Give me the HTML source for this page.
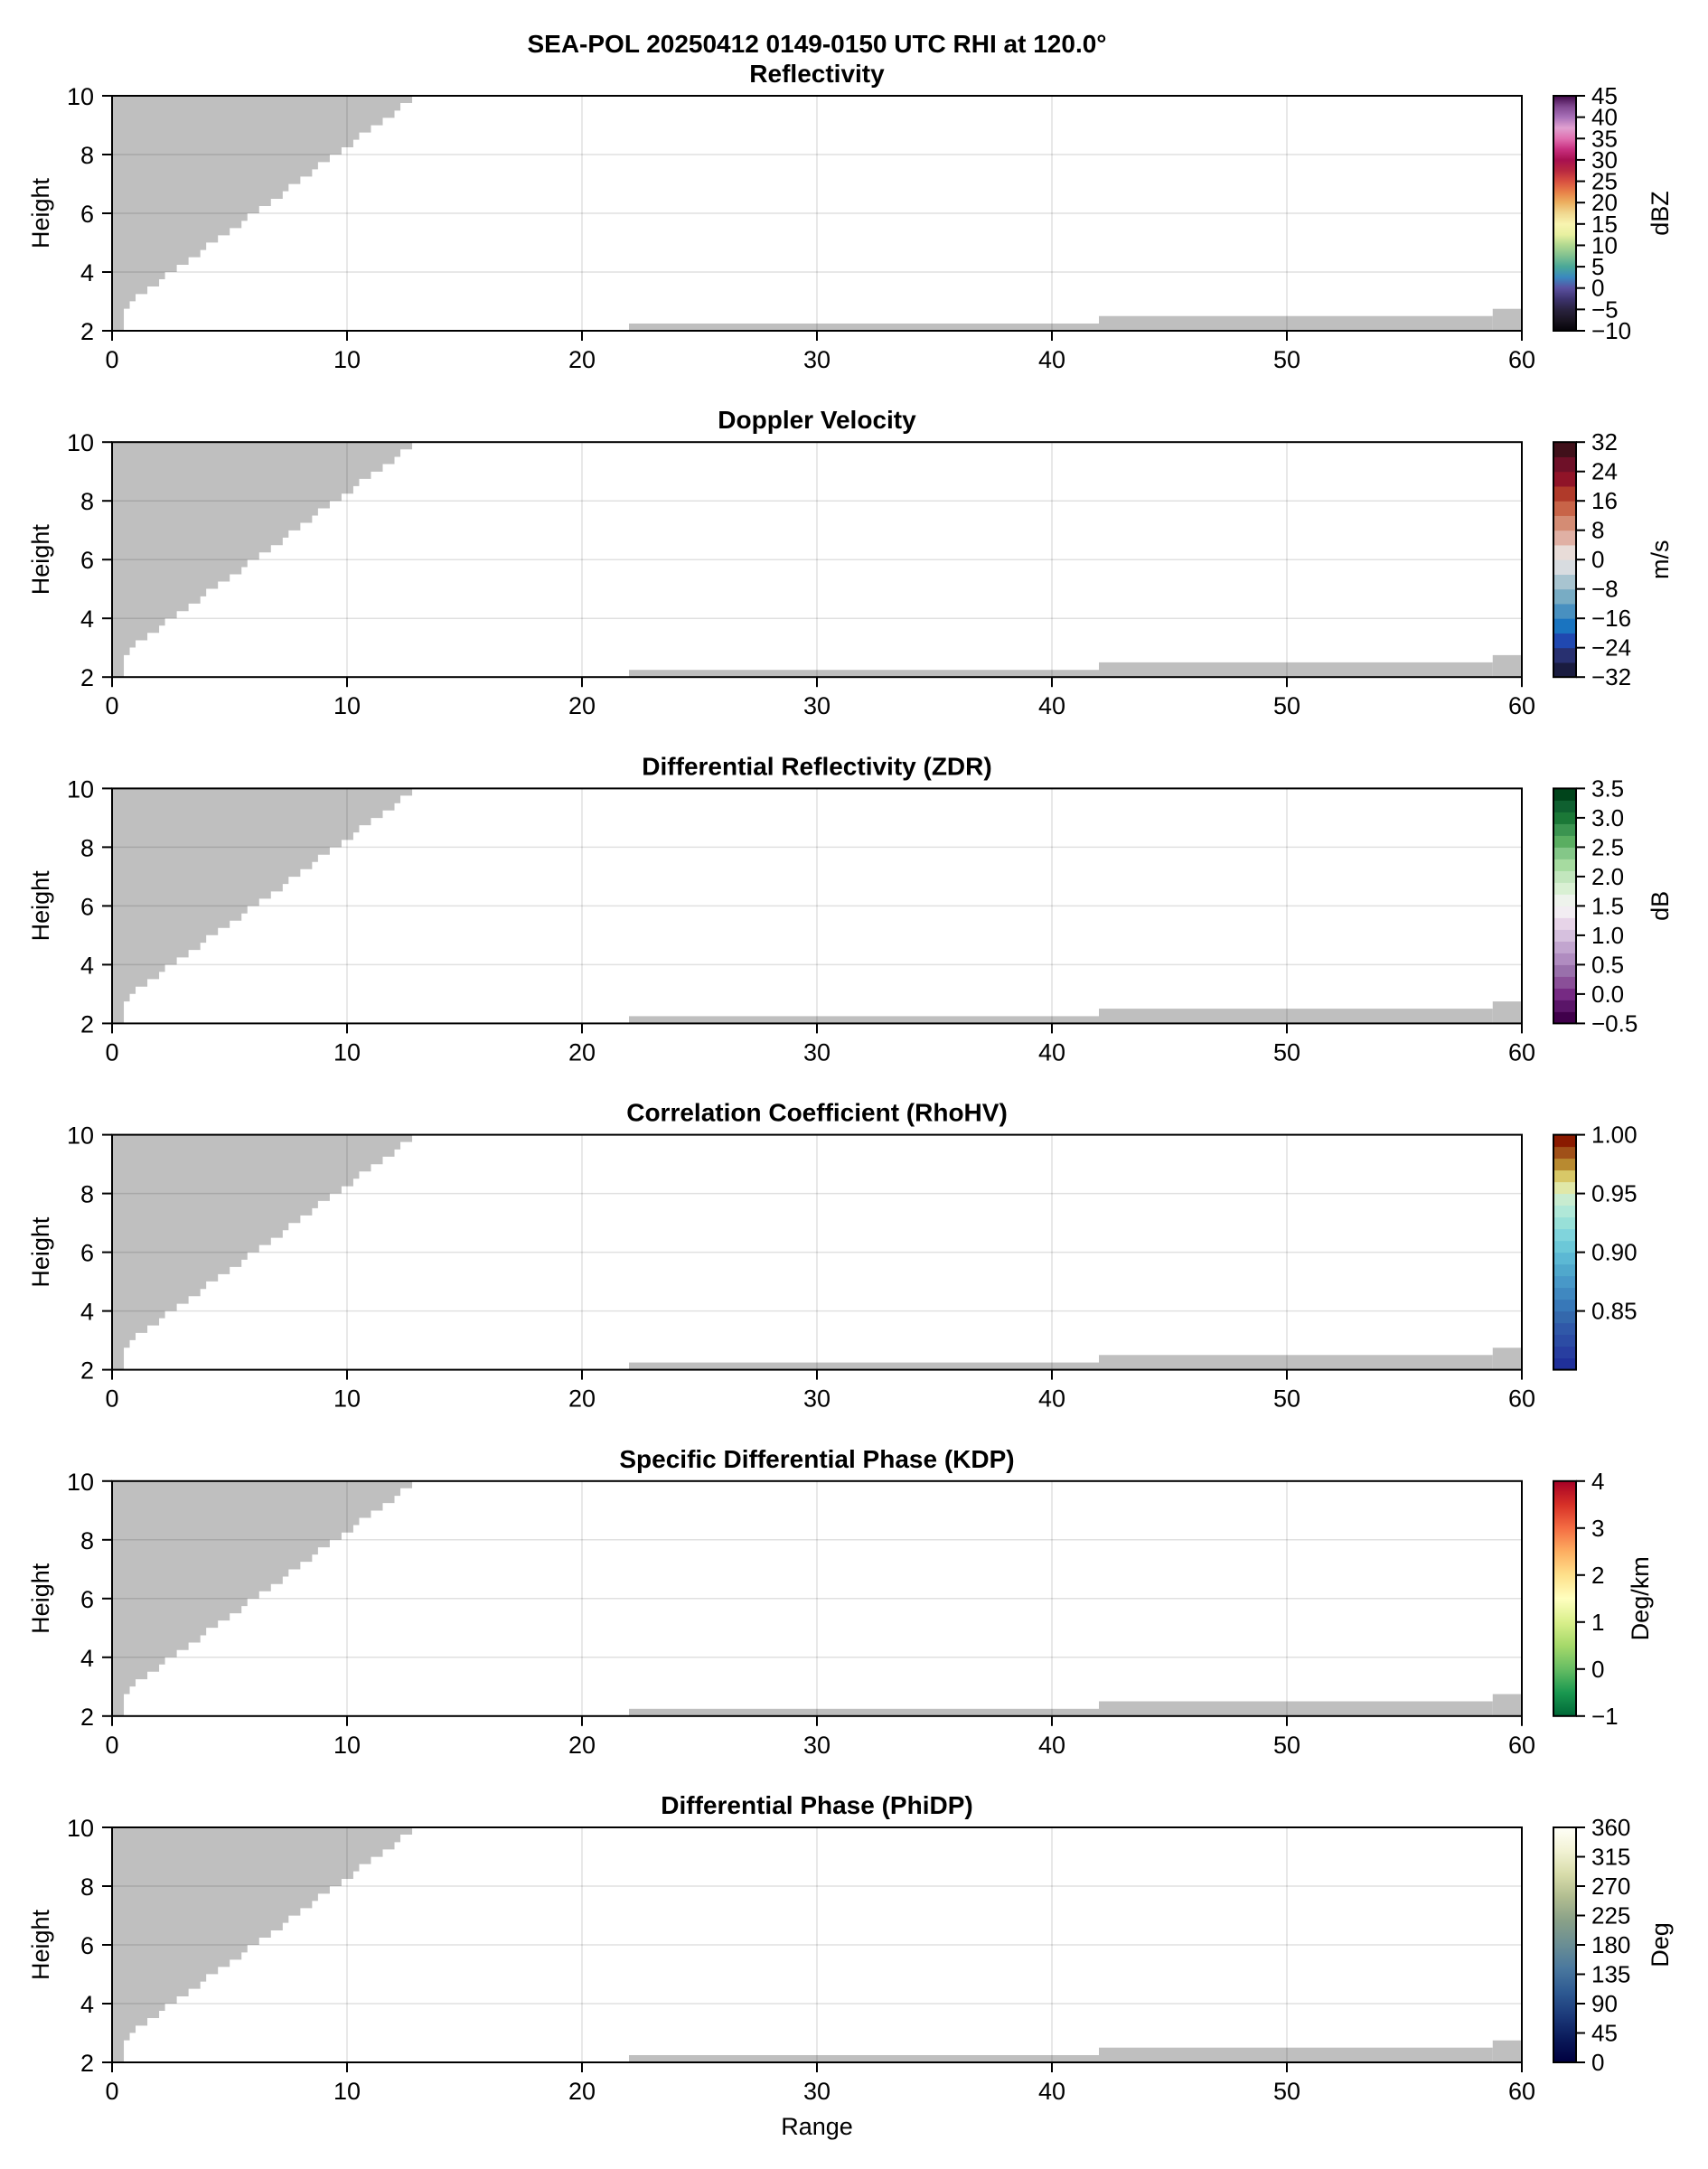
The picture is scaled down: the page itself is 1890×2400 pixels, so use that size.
<!DOCTYPE html>
<html><head><meta charset="utf-8"><style>
html,body{margin:0;padding:0;background:#fff;overflow:hidden;}
svg{display:block;font-family:"Liberation Sans",sans-serif;}
</style></head><body>
<svg id="s" width="1890" height="2400" xmlns="http://www.w3.org/2000/svg">
<text x="904" y="58" font-size="28" font-weight="bold" text-anchor="middle">SEA-POL 20250412 0149-0150 UTC RHI at 120.0°</text>
</svg>
<script>
const S=document.getElementById('s');
let html='';
const L=124,R=1684,W=R-L,H=260,U=W/60;
const tops=[106,489.2,872.4,1255.6,1638.8,2022];
const titles=['Reflectivity','Doppler Velocity','Differential Reflectivity (ZDR)','Correlation Coefficient (RhoHV)','Specific Differential Phase (KDP)','Differential Phase (PhiDP)'];
const units=['dBZ','m/s','dB','','Deg/km','Deg'];
const ticks=[
 [[-10,'−10'],[-5,'−5'],[0,'0'],[5,'5'],[10,'10'],[15,'15'],[20,'20'],[25,'25'],[30,'30'],[35,'35'],[40,'40'],[45,'45']],
 [[-32,'−32'],[-24,'−24'],[-16,'−16'],[-8,'−8'],[0,'0'],[8,'8'],[16,'16'],[24,'24'],[32,'32']],
 [[-0.5,'−0.5'],[0,'0.0'],[0.5,'0.5'],[1,'1.0'],[1.5,'1.5'],[2,'2.0'],[2.5,'2.5'],[3,'3.0'],[3.5,'3.5']],
 [[0.85,'0.85'],[0.9,'0.90'],[0.95,'0.95'],[1.0,'1.00']],
 [[-1,'−1'],[0,'0'],[1,'1'],[2,'2'],[3,'3'],[4,'4']],
 [[0,'0'],[45,'45'],[90,'90'],[135,'135'],[180,'180'],[225,'225'],[270,'270'],[315,'315'],[360,'360']]];
const ranges=[[-10,45],[-32,32],[-0.5,3.5],[0.8,1.0],[-1,4],[0,360]];
const cmaps=[
 ['#050308','#1a1522','#2a2340','#3e3470','#5a50a0','#3a88c0','#4aa898','#80c090','#b0d890','#e8f0a0','#f8f4b0','#f0d890','#ecb060','#e88048','#d85040','#b82840','#a81050','#c83080','#e070b0','#e0a0d0','#a870b8','#804890','#400848'],
 ['#1a1c40','#283070','#2048b0','#1a74c0','#4890c0','#78acc4','#a8c4d0','#d8dce0','#e8dcd8','#e0b0a4','#d48c74','#c86448','#b03a2a','#901428','#6e1028','#40101a'],
 ['#40004b','#5a1568','#762a83','#8a4f98','#9970ab','#b08cc0','#c2a5cf','#d6c0de','#e7d4e8','#f2edf2','#eef3ec','#d9f0d3','#c2e6bd','#a6dba0','#84c788','#5aae61','#3b9450','#1b7837','#0f6030','#00441b'],
 ['#20309a','#283ea0','#2c4ca4','#3058a8','#3468ac','#3878b8','#4088c0','#4898c8','#50a8cc','#5cb8d4','#6cc8d8','#80d4dc','#98e0d8','#b0e8d8','#c8ecd0','#e0e8a8','#d8c868','#b88a30','#a05018','#8a1a00'],
 ['#006837','#1a9850','#66bd63','#a6d96a','#d9ef8b','#ffffbf','#fee08b','#fdae61','#f46d43','#d73027','#a50026'],
 ['#000040','#0a1a5a','#1c3a7a','#2e5a92','#4a789e','#6a8e94','#88a088','#b0bc90','#d8dcaa','#f2f2d4','#fffff8']];
const discrete=[false,true,true,true,false,false];
const xs=[0,34,51,68,102,136,153,187,221,255,272,306,340,374,391,425,459,493,510,544,578,595,629,663,697,714,748,782,816,833,867];
const ys=[780,707,682,658,633,609,585,561,536,512,487,463,439,415,390,366,342,317,293,268,244,220,195,171,146,122,98,73,49,24];
const fx=0.383;
let stair='M0,0 L0,260 ';
for(let i=0;i<ys.length;i++){stair+=`L${xs[i]*fx},${ys[i]/3} L${xs[i+1]*fx},${ys[i]/3} `;}
stair+=`L${867*fx},0 Z`;
for(let p=0;p<6;p++){
 const T=tops[p];
 html+=`<text x="${(L+R)/2}" y="${T-15}" font-size="28" font-weight="bold" text-anchor="middle">${titles[p]}</text>`;
 html+=`<g transform="translate(${L},${T})">`;
 html+=`<path d="${stair}" fill="#bfbfbf"/>`;
 html+=`<rect x="${22*U}" y="252" width="${20*U}" height="8" fill="#bfbfbf"/>`;
 html+=`<rect x="${42*U}" y="243.7" width="${16.76*U}" height="16.3" fill="#bfbfbf"/>`;
 html+=`<rect x="${58.76*U}" y="235.7" width="${1.24*U}" height="24.3" fill="#bfbfbf"/>`;
 for(let k=1;k<6;k++){const x=k*W/6;html+=`<line x1="${x}" y1="0" x2="${x}" y2="${H}" stroke="#000" stroke-opacity="0.12" stroke-width="1.5"/>`;}
 for(let k=1;k<4;k++){const y=k*H/4;html+=`<line x1="0" y1="${y}" x2="${W}" y2="${y}" stroke="#000" stroke-opacity="0.12" stroke-width="1.5"/>`;}
 html+=`<rect x="0" y="0" width="${W}" height="${H}" fill="none" stroke="#000" stroke-width="2"/>`;
 for(let k=0;k<7;k++){const x=k*W/6;html+=`<line x1="${x}" y1="${H}" x2="${x}" y2="${H+11}" stroke="#000" stroke-width="2"/><text x="${x}" y="${H+41}" font-size="27" text-anchor="middle">${k*10}</text>`;}
 for(let k=0;k<5;k++){const y=H-k*H/4;html+=`<line x1="-11" y1="${y}" x2="0" y2="${y}" stroke="#000" stroke-width="2"/><text x="-20" y="${y+10}" font-size="27" text-anchor="end">${2+2*k}</text>`;}
 html+=`<text transform="translate(-70,${H/2}) rotate(-90)" font-size="27" text-anchor="middle">Height</text>`;
 html+=`</g>`;
 const cx=1719,cw=25,cm=cmaps[p],n=cm.length;
 if(discrete[p]){
  for(let i=0;i<n;i++){const h=H/n;html+=`<rect x="${cx}" y="${T+H-(i+1)*h}" width="${cw}" height="${h+0.5}" fill="${cm[i]}"/>`;}
 } else {
  let st2='';for(let i=n-1;i>=0;i--){st2+=`<stop offset="${1-i/(n-1)}" stop-color="${cm[i]}"/>`;}
  html+=`<defs><linearGradient id="g${p}" x1="0" y1="0" x2="0" y2="1">${st2}</linearGradient></defs><rect x="${cx}" y="${T}" width="${cw}" height="${H}" fill="url(#g${p})"/>`;
 }
 html+=`<rect x="${cx}" y="${T}" width="${cw}" height="${H}" fill="none" stroke="#000" stroke-width="2"/>`;
 const [a,b]=ranges[p];
 for(const [v,l] of ticks[p]){const y=T+H-(v-a)/(b-a)*H;html+=`<line x1="${cx+cw}" y1="${y}" x2="${cx+cw+10}" y2="${y}" stroke="#000" stroke-width="2"/><text x="${cx+cw+17}" y="${y+9}" font-size="26">${l}</text>`;}
 if(units[p]){const ux=p==4?1816:1838;html+=`<text transform="translate(${ux+8},${T+H/2}) rotate(-90)" font-size="27" text-anchor="middle">${units[p]}</text>`;}
}
html+=`<text x="${(L+R)/2}" y="2362" font-size="27" text-anchor="middle">Range</text>`;
S.insertAdjacentHTML('beforeend',html);
</script>
</body></html>
